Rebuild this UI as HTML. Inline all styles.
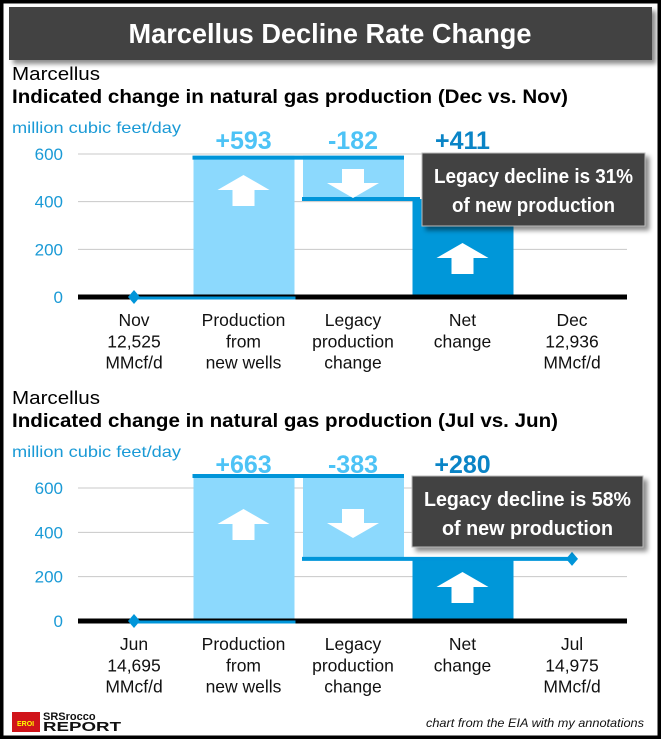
<!DOCTYPE html>
<html><head><meta charset="utf-8"><style>
html,body{margin:0;padding:0;background:#fff}
body{width:661px;height:739px;overflow:hidden;position:relative;font-family:"Liberation Sans",Arial,sans-serif}
</style></head><body>
<svg id="s" width="661" height="739" xmlns="http://www.w3.org/2000/svg" style="position:absolute;left:0;top:0">
<defs>
<filter id="sh" x="-10%" y="-10%" width="130%" height="140%"><feDropShadow dx="4" dy="4" stdDeviation="2.5" flood-color="#000" flood-opacity="0.45"/></filter>
</defs>
<rect x="1.5" y="1.5" width="658" height="736" fill="#fff" stroke="#000" stroke-width="4"/>
<g>
<rect x="9" y="7" width="643" height="53" fill="#424242" filter="url(#sh)"/>
<text x="330" y="43" text-anchor="middle" fill="#fff" font-size="28" font-weight="bold" textLength="403" lengthAdjust="spacingAndGlyphs">Marcellus Decline Rate Change</text>
</g>
<g id="c1"></g>
<g id="c2"></g>
<g>
<rect x="12" y="712" width="28" height="20" fill="#d0141a"/>
<text x="17" y="726" font-size="7" font-weight="bold" fill="#ff0">EROI</text>
<text x="43" y="720" font-size="11" font-weight="bold" fill="#111">SRSrocco</text>
<text x="43" y="731" font-size="13" font-weight="bold" fill="#111" textLength="78" lengthAdjust="spacingAndGlyphs">REPORT</text>
<text x="644" y="727" text-anchor="end" font-size="12" font-style="italic" fill="#111" textLength="218" lengthAdjust="spacingAndGlyphs">chart from the EIA with my annotations</text>
</g>
</svg>
<script>
const NS="http://www.w3.org/2000/svg";
const cats1=[["Nov","12,525","MMcf/d"],["Production","from","new wells"],["Legacy","production","change"],["Net","change"],["Dec","12,936","MMcf/d"]];
const cats2=[["Jun","14,695","MMcf/d"],["Production","from","new wells"],["Legacy","production","change"],["Net","change"],["Jul","14,975","MMcf/d"]];
const newWells1=593, legacy1=-182, net1=411;
const newWells2=663, legacy2=-383, net2=280;
const ticks=[0,200,400,600];
const pct1="31%", pct2="58%";

function mk(p,tag,a,txt){const e=document.createElementNS(NS,tag);for(const k in a)e.setAttribute(k,a[k]);if(txt!=null)e.textContent=txt;p.appendChild(e);return e;}

function draw(g,o){
  const y=v=>o.y0-v*o.ppu;
  const cx=i=>134+i*109.5;
  const bw=101;
  let t;
  t=mk(g,'text',{x:12,y:o.top,'font-size':18,fill:'#000',textLength:88,lengthAdjust:'spacingAndGlyphs'},'Marcellus');
  
  t=mk(g,'text',{x:12,y:o.top+23,'font-size':19,'font-weight':'bold',fill:'#000',textLength:o.subW,lengthAdjust:'spacingAndGlyphs'},o.sub);
  
  t=mk(g,'text',{x:12,y:o.top+53,'font-size':16,fill:'#1a9ad6',textLength:169,lengthAdjust:'spacingAndGlyphs'},'million cubic feet/day');
  
  ticks.forEach(v=>{
    if(v>0){const l=mk(g,'line',{x1:78,x2:627,y1:y(v),y2:y(v),stroke:'#c8c8c8','stroke-width':1});
    }
    const tt=mk(g,'text',{x:63,y:y(v)+6,'text-anchor':'end','font-size':17,fill:'#1a9ad6'},String(v));
    
  });
  const top=o.nw, lvl=o.nw+o.lg;
  let r=mk(g,'rect',{x:cx(1)-50,y:y(top),width:bw,height:y(0)-y(top),fill:'#8cd9fd'});
  
  r=mk(g,'rect',{x:cx(2)-50,y:y(top),width:bw,height:y(lvl)-y(top),fill:'#8cd9fd'});
  
  r=mk(g,'rect',{x:cx(3)-50,y:y(o.net),width:bw,height:y(0)-y(o.net),fill:'#0097d9'});
  
  let l=mk(g,'line',{x1:78,x2:627,y1:y(0),y2:y(0),stroke:'#000','stroke-width':5});
  
  l=mk(g,'line',{x1:cx(0),x2:cx(1)+52,y1:y(0)+1,y2:y(0)+1,stroke:'#0095d9','stroke-width':3});
  
  l=mk(g,'line',{x1:cx(1)-51,x2:cx(2)+51,y1:y(top)+2,y2:y(top)+2,stroke:'#0095d9','stroke-width':4});
  
  l=mk(g,'line',{x1:cx(2)-51,x2:o.lineEnd,y1:y(lvl),y2:y(lvl),stroke:'#0095d9','stroke-width':4});
  
  const d=(x,yy,n)=>{const p=mk(g,'path',{d:`M${x} ${yy-7}L${x+6} ${yy}L${x} ${yy+7}L${x-6} ${yy}Z`,fill:'#0095d9'});};
  d(cx(0),y(0),'start-marker');
  if(o.endMarker) d(cx(4),y(lvl),'end-marker');
  const up=(x,tip,n)=>{const p=mk(g,'path',{d:`M${x} ${tip}L${x+26} ${tip+15}L${x+11} ${tip+15}L${x+11} ${tip+31}L${x-11} ${tip+31}L${x-11} ${tip+15}L${x-26} ${tip+15}Z`,fill:'#fff'});};
  const dn=(x,tip,n)=>{const p=mk(g,'path',{d:`M${x} ${tip}L${x+26} ${tip-15}L${x+11} ${tip-15}L${x+11} ${tip-29}L${x-11} ${tip-29}L${x-11} ${tip-15}L${x-26} ${tip-15}Z`,fill:'#fff'});};
  up(cx(1),o.a1,'up-arrow-new-wells');
  dn(cx(2),o.a2,'down-arrow-legacy');
  up(cx(3),o.a3,'up-arrow-net');
  const vl=(i,txt,c,n)=>{const e=mk(g,'text',{x:cx(i),y:o.top+69,'text-anchor':'middle','font-size':25,'font-weight':'bold',fill:c},txt);};
  vl(1,'+'+o.nw,'#4dc3f6','value-new-wells');
  vl(2,String(o.lg),'#4dc3f6','value-legacy');
  vl(3,'+'+o.net,'#0a84c6','value-net');
  o.cats.forEach((c,i)=>c.forEach((s,j)=>{const e=mk(g,'text',{x:cx(i),y:y(0)+29+j*21.3,'text-anchor':'middle','font-size':17.5,fill:'#111'},s);}));
  const cg=mk(g,'g',{});
  mk(cg,'rect',{x:o.bx,y:o.by,width:o.bw,height:o.bh,fill:'#424242',stroke:'#bbb','stroke-width':1,filter:'url(#sh)'});
  mk(cg,'text',{x:o.bx+o.bw/2,y:o.by+30,'text-anchor':'middle','font-size':20,'font-weight':'bold',fill:'#fff',textLength:o.bw-24,lengthAdjust:'spacingAndGlyphs'},'Legacy decline is '+o.pct);
  mk(cg,'text',{x:o.bx+o.bw/2,y:o.by+59,'text-anchor':'middle','font-size':20,'font-weight':'bold',fill:'#fff',textLength:o.bw-60,lengthAdjust:'spacingAndGlyphs'},'of new production');
}
draw(document.getElementById('c1'),{top:80,sub:'Indicated change in natural gas production (Dec vs. Nov)',subW:556,y0:297,ppu:143/600,nw:newWells1,lg:legacy1,net:net1,cats:cats1,lineEnd:420,endMarker:false,a1:175,a2:198,a3:243,bx:422,by:153,bw:223,bh:73,pct:pct1});
draw(document.getElementById('c2'),{top:404,sub:'Indicated change in natural gas production (Jul vs. Jun)',subW:546,y0:621,ppu:133/600,nw:newWells2,lg:legacy2,net:net2,cats:cats2,lineEnd:570,endMarker:true,a1:509,a2:538,a3:572,bx:412,by:476,bw:231,bh:71,pct:pct2});
</script>
</body></html>
